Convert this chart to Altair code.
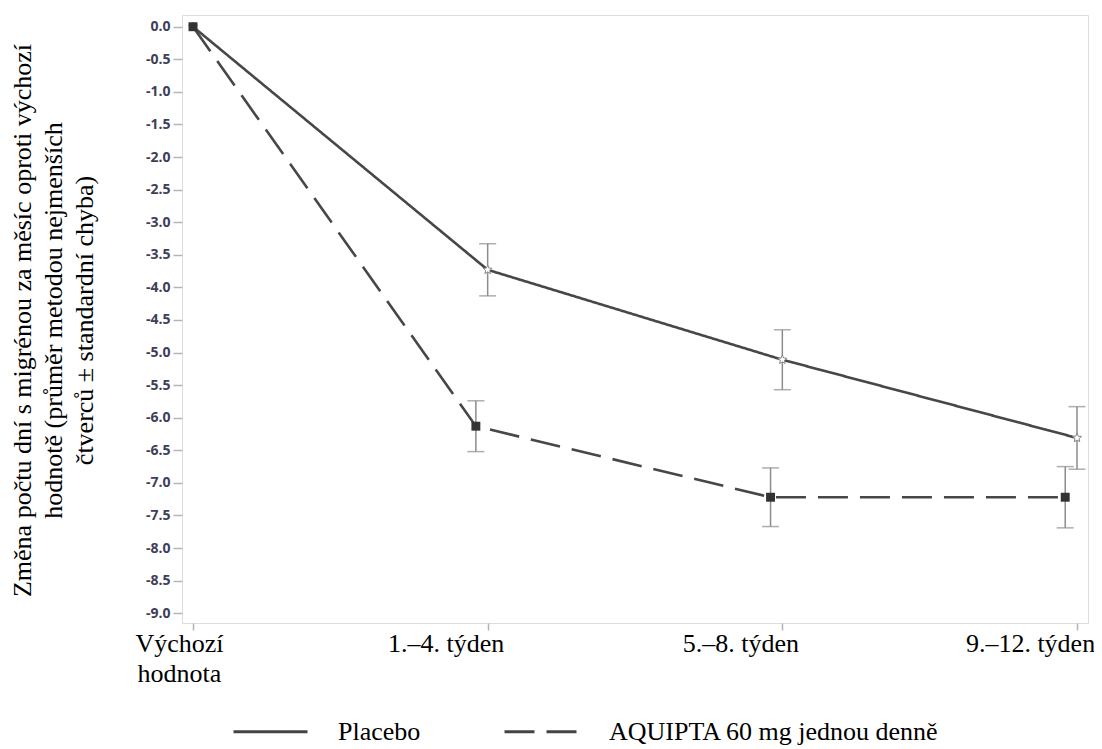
import math
import altair as alt
import pandas as pd

# ---------------- data ----------------
period_lines = [["Výchozí", "hodnota"], ["1.–4. týden"], ["5.–8. týden"], ["9.–12. týden"]]
series_names = ["Placebo", "AQUIPTA 60 mg jednou denně"]
placebo_mean = [0.0, -3.73, -5.11, -6.31]
placebo_se = [0.0, 0.40, 0.46, 0.48]
aquipta_mean = [0.0, -6.13, -7.22, -7.22]
aquipta_se = [0.0, 0.39, 0.45, 0.47]
y_tick_values = [0.0, -0.5, -1.0, -1.5, -2.0, -2.5, -3.0, -3.5, -4.0, -4.5, -5.0,
                 -5.5, -6.0, -6.5, -7.0, -7.5, -8.0, -8.5, -9.0]
y_title = ["Změna počtu dní s migrénou za měsíc oproti výchozí",
           "hodnotě (průměr metodou nejmenších",
           "čtverců ± standardní chyba)"]

rows = []
for i in range(len(period_lines)):
    for name, means, ses in ((series_names[0], placebo_mean, placebo_se),
                             (series_names[1], aquipta_mean, aquipta_se)):
        rows.append({"idx": i, "series": name, "mean": means[i],
                     "se": ses[i], "lo": means[i] - ses[i], "hi": means[i] + ses[i]})
df = pd.DataFrame(rows)

# ---------------- styling helpers ----------------
def star_path(r_out, r_in, cx=0.0, cy=0.0):
    pts = []
    for k in range(10):
        r = r_out if k % 2 == 0 else r_in
        a = -math.pi / 2 + k * math.pi / 5
        pts.append((cx + r * math.cos(a), cy + r * math.sin(a)))
    return "M" + "L".join(f"{x:.3f},{y:.3f}" for x, y in pts) + "Z"

STAR = star_path(1.0, 0.45)

label_expr = "[" + ",".join("[" + ",".join(f"'{s}'" for s in l) + "]" for l in period_lines) + "][datum.value]"

serif = "Liberation Serif"
dodge = f"datum.series == '{series_names[1]}' && datum.idx > 0 ? datum.idx - 0.04 : datum.idx"

x_enc = alt.X("xpos:Q",
              scale=alt.Scale(domain=[-0.0373, 3.0373], nice=False, zero=False),
              axis=alt.Axis(values=[0, 1, 2, 3], labelExpr=label_expr, title=None,
                            domain=False, grid=False, tickSize=7, tickColor="#b8b2b2",
                            tickWidth=1.5, labelFont=serif, labelFontSize=26,
                            labelColor="black", labelLineHeight=30, labelPadding=0,
                            labelOffset={"expr": "datum.value == 0 ? -14 : (datum.value == 3 ? -47 : -42)"},
                            labelBaseline="top", labelFlush=False, labelOverlap=False))

def y_enc(field):
    return alt.Y(field,
                 scale=alt.Scale(domain=[-9.15, 0.18], nice=False, zero=False),
                 axis=alt.Axis(values=y_tick_values,
                               labelExpr="replace(format(datum.value, '.1f'), '\u2212', '-')",
                               title=y_title, titleFont=serif, titleFontSize=26,
                               titleFontWeight="normal", titleColor="black",
                               titleLineHeight=31, titleAngle=270, titleAlign="center",
                               titleBaseline="bottom", titleX=-147, titleY=305,
                               domain=False, grid=False, tickSize=9, tickColor="#b8b2b2",
                               tickWidth=1.5, labelFont="Open Sans", labelFontSize=14,
                               labelFontWeight="bold", labelColor="#3e3e58",
                               labelPadding=3))

base = alt.Chart(df).transform_calculate(xpos=dodge)

lines = base.mark_line(color="#474747", strokeWidth=2.6).encode(
    x=x_enc,
    y=y_enc("mean:Q"),
    strokeDash=alt.StrokeDash(
        "series:N",
        scale=alt.Scale(domain=series_names, range=[[1, 0], [30, 12]]),
        legend=alt.Legend(title=None, orient="none", legendX=50, legendY=678,
                          direction="horizontal", symbolType="stroke", symbolSize=5476,
                          symbolStrokeWidth=3, symbolStrokeColor="#444444",
                          labelFont=serif, labelFontSize=26, labelColor="black",
                          labelOffset=29, columnPadding=77, labelLimit=600),
    ),
)

errs = base.transform_filter("datum.se > 0")
err_rule = errs.mark_rule(color="#8c8c8c", strokeWidth=1.5).encode(
    x=x_enc, y=y_enc("lo:Q"), y2="hi:Q")
err_lo = errs.mark_tick(color="#8c8c8c", thickness=1.5, size=17, orient="horizontal").encode(
    x=x_enc, y=y_enc("lo:Q"))
err_hi = errs.mark_tick(color="#8c8c8c", thickness=1.5, size=17, orient="horizontal").encode(
    x=x_enc, y=y_enc("hi:Q"))

pts_placebo = base.transform_filter(f"datum.series == '{series_names[0]}'").mark_point(
    shape=STAR, size=90, filled=False, fill="#ffffff", stroke="#888888", strokeWidth=1, opacity=1
).encode(x=x_enc, y=y_enc("mean:Q"))

pts_aquipta = base.transform_filter(f"datum.series == '{series_names[1]}'").mark_point(
    shape="square", size=80, filled=True, color="#333333", opacity=1
).encode(x=x_enc, y=y_enc("mean:Q"))

chart = alt.layer(err_rule, err_lo, err_hi, lines, pts_placebo, pts_aquipta).properties(
    width=906, height=608,
    padding={"left": 174, "top": 7, "right": 6, "bottom": 123},
    autosize=alt.AutoSizeParams(type="none"),
).configure_view(stroke="#c9c3c3", strokeWidth=1.5).configure(background="white")

chart.save("out.html", embed_options={"renderer": "svg", "actions": False})
